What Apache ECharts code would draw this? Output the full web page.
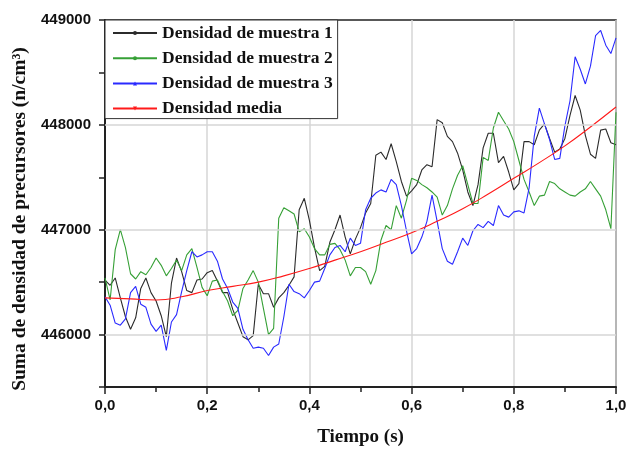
<!DOCTYPE html>
<html>
<head>
<meta charset="utf-8">
<script src="https://cdn.jsdelivr.net/npm/echarts@6/dist/echarts.min.js"></script>
<style>
  html, body { margin: 0; padding: 0; background: #fff; }
  #chart { width: 630px; height: 449px; }
</style>
</head>
<body>
<div id="chart"></div>
<script>
// Time grid of the sampled runs (s), every 0.01 s
const time = Array.from({ length: 101 }, (_, i) => +(i / 100).toFixed(2));
// Time grid of the averaged curve (s), every 0.05 s
const timeMean = Array.from({ length: 21 }, (_, i) => +(i / 20).toFixed(2));

const seriesNames = ['Densidad de muestra 1', 'Densidad de muestra 2', 'Densidad de muestra 3', 'Densidad media'];

// Summed precursor density (n/cm^3), run 1
const muestra1 = [
  446520,446470,446540,446350,446170,446050,446160,446440,446540,446400,
  446320,446180,445980,446490,446730,446600,446420,446400,446520,446530,
  446590,446610,446510,446400,446400,446240,446110,445980,445950,445990,
  446480,446390,446390,446260,446350,446400,446470,446550,447190,447300,
  447090,446830,446610,446650,446880,447000,447140,446930,446770,446910,
  447020,447160,447250,447710,447740,447670,447820,447650,447460,447320,
  447370,447430,447570,447620,447600,448050,448020,447890,447840,447730,
  447570,447360,447230,447430,447780,447920,447920,447640,447700,447550,
  447380,447440,447840,447840,447810,447950,448010,447870,447740,447770,
  447870,448090,448280,448140,447900,447720,447680,447950,447960,447830,
  447810
];

// Run 2
const muestra2 = [
  446540,446330,446810,447000,446830,446580,446530,446600,446570,446640,
  446730,446660,446560,446630,446710,446610,446760,446820,446640,446450,
  446370,446510,446520,446410,446320,446180,446230,446440,446520,446610,
  446500,446250,446000,446060,447110,447210,447180,447150,446980,447010,
  446930,446820,446760,446760,446860,446870,446810,446710,446560,446640,
  446640,446600,446480,446610,446900,447040,447000,447230,447110,447280,
  447490,447470,447430,447400,447360,447310,447140,447230,447390,447520,
  447610,447430,447250,447250,447690,447660,447970,448120,448040,447960,
  447840,447660,447480,447360,447230,447320,447330,447460,447440,447390,
  447360,447330,447320,447360,447390,447460,447390,447320,447190,447010,
  448120
];

// Run 3
const muestra3 = [
  446360,446280,446110,446090,446150,446400,446460,446290,446260,446100,
  446030,446090,445850,446120,446190,446410,446610,446790,446740,446760,
  446790,446790,446700,446530,446440,446310,446250,446050,445950,445870,
  445880,445870,445800,445880,445910,446170,446480,446410,446390,446350,
  446420,446500,446510,446630,446760,446830,446850,446790,446920,446850,
  446870,447190,447300,447350,447380,447360,447480,447430,447230,446990,
  446770,446820,446930,447080,447330,447080,446820,446700,446670,446790,
  446920,446850,446990,447050,447020,447080,447040,447230,447140,447120,
  447170,447180,447160,447400,447890,448160,448010,447860,447670,447680,
  447990,448230,448650,448530,448390,448560,448850,448900,448760,448680,
  448830
];

// Averaged density
const media = [
  446350,446340,446330,446360,446420,446460,446500,446560,446630,446710,
  446790,446880,446970,447080,447200,447340,447490,447640,447800,447980,
  448170
];

// Horizontal reference lines at whole thousands
const gridLevels = [446000, 447000, 448000];

const pair = (xs, ys) => xs.map((x, i) => [x, ys[i]]);

const chart = echarts.init(document.getElementById('chart'), null, { renderer: 'canvas' });

const lineSeries = (name, xs, ys, color, symbol, rotate, smooth) => ({
  name,
  type: 'line',
  data: pair(xs, ys),
  showSymbol: false,
  symbol,
  symbolSize: 4,
  symbolRotate: rotate,
  smooth: smooth,
  itemStyle: { color },
  lineStyle: { color, width: 1.1 },
  emphasis: { disabled: true },
  z: 3
});

chart.setOption({
  animation: false,
  backgroundColor: '#ffffff',
  grid: {
    left: 105, right: 14, top: 20, bottom: 62,
    outerBoundsMode: 'none',
    show: true,
    borderColor: '#222',
    borderWidth: 1.5,
    backgroundColor: 'transparent'
  },
  legend: {
    data: seriesNames,
    orient: 'vertical',
    left: 105,
    top: 20,
    padding: [4, 5, 1, 7],
    itemGap: 7.2,
    itemWidth: 44,
    itemHeight: 5,
    backgroundColor: '#ffffff',
    borderColor: '#333',
    borderWidth: 1,
    textStyle: {
      fontFamily: 'Liberation Serif',
      fontWeight: 'bold',
      fontSize: 17.5,
      color: '#111'
    },
    z: 10
  },
  xAxis: {
    type: 'value',
    min: 0,
    max: 1,
    interval: 0.2,
    name: 'Tiempo (s)',
    nameLocation: 'middle',
    nameGap: 41,
    nameTextStyle: {
      fontFamily: 'Liberation Serif',
      fontWeight: 'bold',
      fontSize: 19,
      color: '#111'
    },
    axisLine: { show: true, onZero: false, lineStyle: { color: '#222', width: 2 } },
    axisTick: { show: true, inside: false, length: 7, lineStyle: { color: '#222', width: 1.5 } },
    minorTick: { show: true, splitNumber: 2, length: 5, lineStyle: { color: '#222', width: 1.5 } },
    axisLabel: {
      margin: 11,
      fontFamily: 'Liberation Sans',
      fontWeight: 'bold',
      fontSize: 15,
      color: '#111',
      formatter: v => v.toFixed(1).replace('.', ',')
    },
    splitLine: { show: true, lineStyle: { color: '#d6d6d6', width: 1.5 } }
  },
  yAxis: {
    type: 'value',
    min: 445500,
    max: 449000,
    interval: 500,
    name: 'Suma de densidad de precursores (n/cm³)',
    nameLocation: 'middle',
    nameGap: 74,
    nameTextStyle: {
      fontFamily: 'Liberation Serif',
      fontWeight: 'bold',
      fontSize: 19.5,
      color: '#111',
      padding: [0, 31, 0, 0]
    },
    axisLine: { show: true, onZero: false, lineStyle: { color: '#222', width: 2 } },
    axisTick: { show: true, inside: false, length: 6, lineStyle: { color: '#222', width: 1.5 } },
    axisLabel: {
      margin: 14,
      fontFamily: 'Liberation Sans',
      fontWeight: 'bold',
      fontSize: 15,
      color: '#111',
      formatter: v => (v % 1000 === 0 ? String(v) : '')
    },
    splitLine: { show: false }
  },
  series: [
    {
      type: 'line',
      data: [],
      silent: true,
      z: 1,
      markLine: {
        silent: true,
        symbol: 'none',
        label: { show: false },
        lineStyle: { type: 'solid', color: '#d6d6d6', width: 1.5 },
        emphasis: { disabled: true },
        data: gridLevels.map(v => ({ yAxis: v }))
      }
    },
    lineSeries(seriesNames[0], time, muestra1, '#2b2b2b', 'circle', 0, false),
    lineSeries(seriesNames[1], time, muestra2, '#36a036', 'circle', 0, false),
    lineSeries(seriesNames[2], time, muestra3, '#2a2aff', 'triangle', 0, false),
    lineSeries(seriesNames[3], timeMean, media, '#ff1a1a', 'triangle', 180, true)
  ]
});
</script>
</body>
</html>
